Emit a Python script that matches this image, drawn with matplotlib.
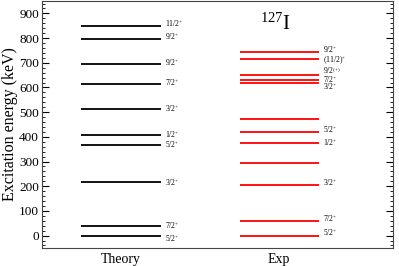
import matplotlib
matplotlib.use("Agg")
import matplotlib.pyplot as plt
from matplotlib.ticker import MultipleLocator

plt.rcParams['font.family'] = ['Liberation Serif', 'DejaVu Serif']
plt.rcParams['mathtext.fontset'] = 'custom'
plt.rcParams['mathtext.rm'] = 'Liberation Serif'
plt.rcParams['mathtext.it'] = 'Liberation Serif:italic'

# level schemes for 127I (keV)
columns = ['Theory', 'Exp']
theory_energy = [0, 38, 215, 367, 407, 513, 616, 695, 795, 849]
theory_spin = ['5/2+', '7/2+', '3/2+', '5/2+', '1/2+', '3/2+', '7/2+', '9/2+', '9/2+', '11/2+']
exp_energy = [0, 57.6, 202.9, 294.7, 375, 417.9, 472.9, 618.4, 628.4, 651, 715.5, 745]
exp_spin = ['5/2+', '7/2+', '3/2+', '', '1/2+', '5/2+', '', '3/2+', '7/2+', '9/2(+)', '(11/2)+', '9/2+']
# nudges of labels in crowded places (keV)
theory_nudge = [-15, 0, 0, 0, 3, 2, 4, 5, 12, 7]
exp_nudge = [12, 11, 9, 0, 0, 12, 0, -16, 2, 16, -5, 9]


def spin_text(s):
    if s.endswith('(+)'):
        return s[:-3] + r'$^{(+)}$'
    if s.endswith('+'):
        return s[:-1] + r'$^{+}$'
    return s


fig = plt.figure(figsize=(3.99, 2.66), dpi=100)
ax = fig.add_axes([0.105, 0.068, 0.880, 0.928])

for x, energy, spin, nudge, color in [(1, theory_energy, theory_spin, theory_nudge, 'black'),
                                      (3, exp_energy, exp_spin, exp_nudge, 'red')]:
    ax.hlines(energy, x - 0.5, x + 0.5, color=color, lw=1.3)
    for e, s, n in zip(energy, spin, nudge):
        if s:
            ax.text(x + 0.56, e + n, spin_text(s), fontsize=5.5, va='center', ha='left')

ax.text(2.95, 900, r'$^{127}$I', fontsize=15, ha='center', va='top')

ax.set_xlim(0, 4.44)
ax.set_ylim(-50, 950)
ax.set_xticks([1, 3])
ax.set_xticklabels(columns, fontsize=10)
ax.tick_params(axis='x', length=0, pad=4)
ax.yaxis.set_major_locator(MultipleLocator(100))
ax.yaxis.set_minor_locator(MultipleLocator(20))
ax.tick_params(axis='y', which='both', direction='in', right=True, labelsize=9.5, pad=2)
ax.tick_params(axis='y', which='major', length=5)
ax.tick_params(axis='y', which='minor', length=2.5)
ax.set_ylabel('Excitation energy (keV)', fontsize=11.5, labelpad=1)
for sp in ax.spines.values():
    sp.set_color('#444444')

fig.savefig('out.png', dpi=100)
